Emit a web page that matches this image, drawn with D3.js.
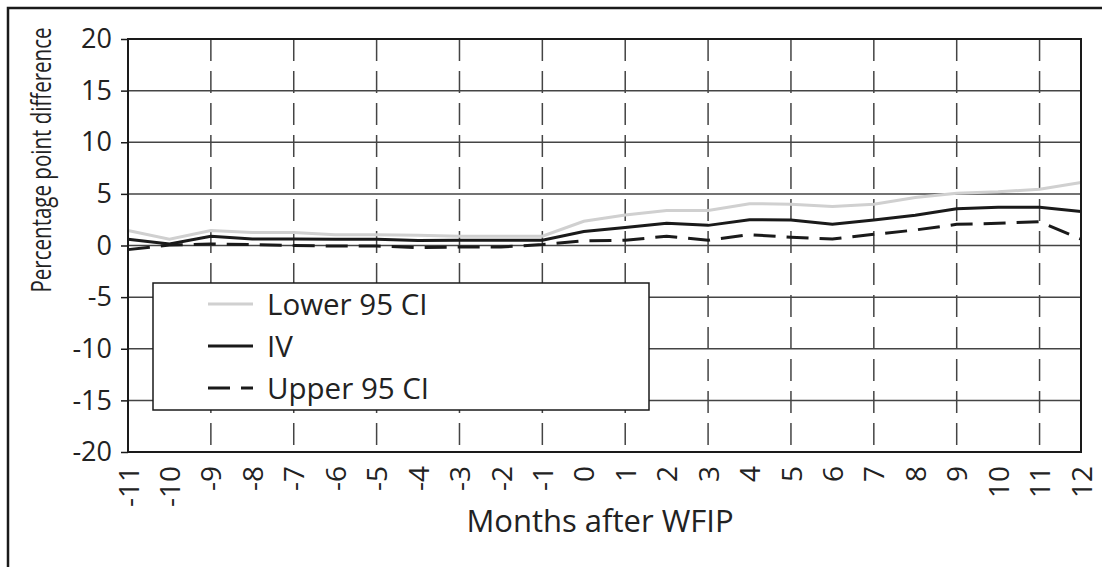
<!DOCTYPE html>
<html>
<head>
<meta charset="utf-8">
<script src="https://cdn.jsdelivr.net/npm/d3@7"></script>
<style>
  body { margin: 0; background: #fff; }
  svg { display: block; font-family: "Open Sans", "Noto Sans", sans-serif; }
</style>
</head>
<body>
<div id="chart"></div>
<script>
// Months relative to WFIP
const months = [-11, -10, -9, -8, -7, -6, -5, -4, -3, -2, -1, 0, 1, 2, 3, 4, 5, 6, 7, 8, 9, 10, 11, 12];

// Series values (percentage point difference)
const lower95 = [1.45, 0.6, 1.45, 1.25, 1.25, 1.05, 1.05, 1.0, 0.9, 0.9, 0.9, 2.35,
  2.95, 3.4, 3.4, 4.05, 4.0, 3.77, 4.0, 4.65, 5.05, 5.2, 5.45, 6.1];
const ivEstimate = [0.6, 0.15, 0.9, 0.63, 0.63, 0.6, 0.6, 0.48, 0.5, 0.5, 0.5, 1.35,
  1.75, 2.15, 1.95, 2.5, 2.47, 2.07, 2.47, 2.93, 3.55, 3.7, 3.7, 3.3];
const upper95 = [-0.4, 0.05, 0.15, 0.1, 0, -0.05, -0.05, -0.2, -0.15, -0.15, 0.1, 0.45,
  0.5, 0.9, 0.5, 1.05, 0.8, 0.62, 1.08, 1.5, 2.05, 2.15, 2.3, 0.62];

const yTicks = [-20, -15, -10, -5, 0, 5, 10, 15, 20];
const dashedMonths = [-9, -7, -5, -3, -1, 1, 3, 5, 7, 9, 11];

const seriesNames = ['Lower 95 CI', 'IV', 'Upper 95 CI'];

const width = 1102, height = 567;
const margin = { top: 39, right: 21, bottom: 115, left: 128 };

const svg = d3.select('#chart')
  .append('svg')
  .attr('width', width)
  .attr('height', height);

// outer frame (only top/left edges fall inside the picture)
svg.append('rect')
  .attr('x', 8).attr('y', 8)
  .attr('width', width).attr('height', height)
  .attr('fill', 'none')
  .attr('stroke', '#1a1a1a')
  .attr('stroke-width', 2.5);

const x = d3.scaleLinear()
  .domain([months[0], months[months.length - 1]])
  .range([margin.left, width - margin.right]);

const y = d3.scaleLinear()
  .domain([-20, 20])
  .range([height - margin.bottom, margin.top]);

// horizontal gridlines
svg.append('g')
  .selectAll('line')
  .data(yTicks.filter(d => d > -20 && d < 20))
  .join('line')
  .attr('x1', x.range()[0]).attr('x2', x.range()[1])
  .attr('y1', d => y(d)).attr('y2', d => y(d))
  .attr('stroke', '#444')
  .attr('stroke-width', 1.5);

// vertical dashed gridlines
svg.append('g')
  .selectAll('line')
  .data(dashedMonths)
  .join('line')
  .attr('x1', d => x(d)).attr('x2', d => x(d))
  .attr('y1', y(20)).attr('y2', y(-20))
  .attr('stroke', '#444')
  .attr('stroke-width', 1.5)
  .attr('stroke-dasharray', '22,10');

// series
const series = [
  { name: seriesNames[0], values: lower95, color: '#d0d0d0', dash: null },
  { name: seriesNames[1], values: ivEstimate, color: '#1a1a1a', dash: null },
  { name: seriesNames[2], values: upper95, color: '#1a1a1a', dash: '22,11' }
];

const line = d3.line()
  .x((d, i) => x(months[i]))
  .y(d => y(d));

svg.append('g')
  .selectAll('path')
  .data(series)
  .join('path')
  .attr('d', d => line(d.values))
  .attr('fill', 'none')
  .attr('stroke', d => d.color)
  .attr('stroke-width', 3)
  .attr('stroke-dasharray', d => d.dash);

// plot frame
svg.append('rect')
  .attr('x', x.range()[0]).attr('y', y(20))
  .attr('width', x.range()[1] - x.range()[0])
  .attr('height', y(-20) - y(20))
  .attr('fill', 'none')
  .attr('stroke', '#1a1a1a')
  .attr('stroke-width', 2);

// plain hyphen for negatives, like the original
const fmt = d => String(d);

// y axis
const yAxis = svg.append('g')
  .attr('transform', `translate(${x.range()[0]},0)`)
  .call(d3.axisLeft(y).tickValues(yTicks).tickSize(7).tickPadding(9).tickFormat(fmt));
yAxis.select('.domain').remove();
yAxis.selectAll('line').attr('stroke', '#1a1a1a').attr('stroke-width', 1.5);
yAxis.selectAll('text')
  .attr('font-size', 27)
  .attr('font-family', '"Open Sans", sans-serif')
  .attr('fill', '#222');

// x axis, rotated labels
const xAxis = svg.append('g')
  .attr('transform', `translate(0,${y(-20)})`)
  .call(d3.axisBottom(x).tickValues(months).tickSize(0).tickFormat(fmt));
xAxis.select('.domain').remove();
xAxis.selectAll('text')
  .attr('transform', 'rotate(-90)')
  .attr('x', -14)
  .attr('y', 0)
  .attr('dy', '0.36em')
  .attr('text-anchor', 'end')
  .attr('font-size', 28)
  .attr('font-family', '"Open Sans", sans-serif')
  .attr('fill', '#222');

// axis titles
svg.append('text')
  .attr('x', 600)
  .attr('y', 532)
  .attr('text-anchor', 'middle')
  .attr('font-size', 31)
  .attr('fill', '#222')
  .text('Months after WFIP');

// narrow-set title, squeezed along its length to fit like the original face
svg.append('text')
  .attr('transform', 'translate(51,160) rotate(-90) scale(0.76,1)')
  .attr('text-anchor', 'middle')
  .attr('font-size', 27)
  .attr('fill', '#222')
  .text('Percentage point difference');

// legend
const legend = svg.append('g');
legend.append('rect')
  .attr('x', 153).attr('y', 283)
  .attr('width', 496).attr('height', 127)
  .attr('fill', '#fff')
  .attr('stroke', '#1a1a1a')
  .attr('stroke-width', 1.5);

const rowY = [304, 346, 388];
const item = legend.selectAll('.item')
  .data(series)
  .join('g')
  .attr('class', 'item')
  .attr('transform', (d, i) => `translate(0,${rowY[i]})`);

item.append('line')
  .attr('x1', 208).attr('x2', 253)
  .attr('stroke', d => d.color)
  .attr('stroke-width', 3)
  .attr('stroke-dasharray', d => d.dash);

item.append('text')
  .attr('x', 267)
  .attr('dy', '0.36em')
  .attr('font-size', 29.5)
  .attr('fill', '#222')
  .text(d => d.name);
</script>
</body>
</html>
